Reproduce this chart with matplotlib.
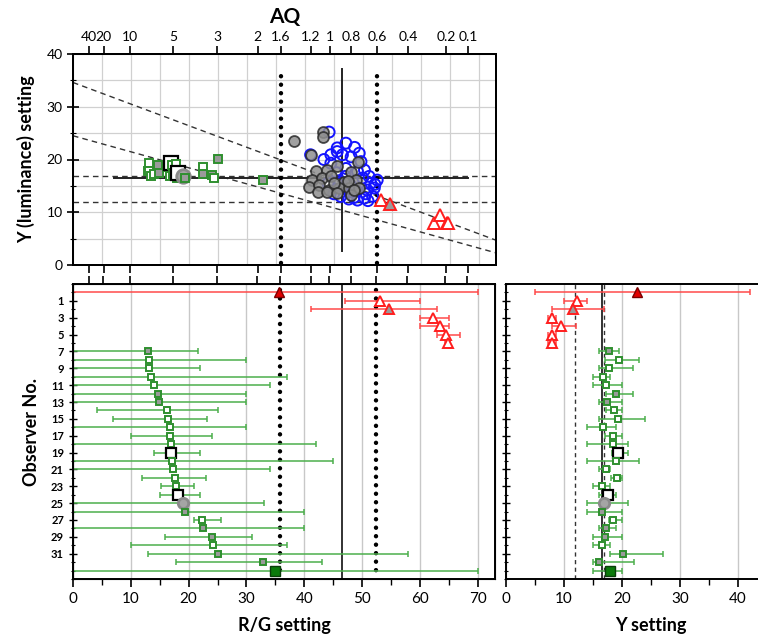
import numpy as np
import matplotlib.pyplot as plt
from matplotlib.ticker import MultipleLocator, FixedLocator, NullFormatter

plt.rcParams['font.family'] = ['Lato', 'DejaVu Sans']

# observers 0..33 (0 = protan mean, 33 = deutan mean)
observer = np.arange(34)
group = ['P'] * 7 + ['D'] * 27
kind = ['mean', 'open', 'gray', 'open', 'open', 'open', 'open',
        'gray', 'open', 'open', 'open', 'open', 'gray', 'gray', 'open', 'open', 'open',
        'open', 'open', 'black', 'open', 'open', 'open', 'open', 'black', 'circle',
        'gray', 'open', 'gray', 'gray', 'open', 'gray', 'gray', 'mean']

rg_val = [35.7, 53.1, 54.7, 62.3, 63.4, 64.6, 64.8,
          12.9, 13.1, 13.2, 13.5, 14.0, 14.7, 14.9, 16.2, 16.4, 16.7, 16.8, 17.0,
          16.9, 17.1, 17.3, 17.7, 17.9, 18.2, 19.0, 19.3, 22.4, 22.5, 24.0, 24.3,
          25.1, 32.8, 35.0]
rg_lo = [0, 47.1, 41.1, 60.0, 60.0, 62.9, 64.3,
         0, 0, 0, 0, 0, 0, 0, 4.1, 7.0, 0, 10.0, 0,
         14.0, 0, 0, 12.0, 15.2, 15.0, 0, 0, 21.0, 0, 16.0, 10.0,
         12.9, 17.9, 0]
rg_hi = [70, 60.0, 63.0, 65.0, 65.0, 67.0, 65.3,
         21.6, 30.0, 22.0, 37.0, 34.1, 30.0, 30.0, 25.0, 23.1, 30.0, 24.0, 42.0,
         22.0, 45.0, 34.0, 23.0, 21.0, 22.0, 33.0, 40.0, 25.6, 40.0, 31.0, 37.0,
         58.0, 43.0, 70.0]

y_val = [22.6, 12.3, 11.5, 8.0, 9.5, 8.0, 7.9,
         17.8, 19.4, 17.8, 16.8, 17.2, 18.9, 17.4, 18.6, 19.3, 16.8, 18.5, 18.4,
         19.3, 18.9, 17.2, 19.2, 16.5, 17.5, 16.9, 16.5, 18.5, 17.2, 17.0, 16.5,
         20.1, 16.1, 18.0]
y_lo = [5.0, 10.0, 8.0, 7.3, 8.0, 7.3, 7.3,
        16.0, 17.0, 16.0, 15.0, 15.0, 17.2, 16.0, 17.2, 16.0, 14.0, 17.0, 14.0,
        18.2, 14.0, 16.0, 18.1, 15.0, 16.0, 14.0, 14.0, 17.7, 16.0, 15.0, 15.0,
        18.0, 15.0, 15.0]
y_hi = [42.0, 14.0, 16.9, 8.7, 12.0, 8.7, 8.6,
        19.5, 23.0, 21.9, 18.0, 20.0, 21.9, 20.0, 20.0, 24.0, 19.0, 20.0, 21.0,
        21.0, 23.0, 18.0, 20.0, 18.0, 18.9, 21.0, 20.0, 20.0, 18.9, 20.0, 18.0,
        27.0, 22.0, 20.0]

# normal trichromats (top panel)
normal_blue_rg = [44.2, 41.0, 47.1, 44.5, 45.6, 46.5, 49.4, 49.7, 50.3, 50.0, 51.4, 50.8,
                  52.0, 51.7, 50.3, 49.1, 47.6, 46.2, 44.5, 52.5, 51.1, 49.1, 47.1, 46.0,
                  48.0, 45.0, 48.0, 50.5, 49.0, 46.5, 48.5, 47.0, 45.5, 44.0, 52.1, 45.6,
                  43.3, 48.6, 50.9, 47.8]
normal_blue_y = [25.2, 20.9, 23.1, 20.9, 21.5, 20.9, 21.2, 19.6, 18.0, 16.5, 15.5, 14.2,
                 14.6, 13.0, 12.7, 12.3, 12.5, 13.0, 19.3, 16.1, 16.8, 17.7, 18.3, 16.0,
                 15.0, 13.5, 20.5, 13.5, 14.0, 14.5, 12.8, 16.8, 17.5, 15.5, 15.3, 22.2,
                 20.0, 22.3, 12.2, 13.9]
normal_gray_rg = [38.1, 43.2, 43.1, 41.0, 49.1, 41.9, 43.9, 45.6, 48.0, 41.3, 43.0, 44.5,
                  46.8, 48.8, 40.7, 42.4, 44.2, 45.9, 47.6, 49.4, 42.2, 45.0, 47.9, 47.4,
                  48.5, 43.9, 45.6]
normal_gray_y = [23.5, 25.2, 24.2, 20.9, 19.6, 17.9, 18.0, 18.7, 17.7, 16.1, 16.5, 16.8,
                 15.8, 16.1, 14.8, 15.2, 14.2, 14.6, 14.6, 14.6, 13.9, 15.5, 13.3, 15.9,
                 14.2, 13.9, 13.6]

aq_ticks = [40, 20, 10, 5, 3, 2, 1.6, 1.2, 1, 0.8, 0.6, 0.4, 0.2, 0.1]
aq_limits = [1.6, 0.6]          # dotted lines
y_limits = [11.9, 16.9]         # dashed lines
normal_mean_rg = 46.5
normal_mean_y = 16.5
cross_rg_span = (7.1, 68.2)
cross_y_span = (2.7, 37.2)
diag_lines = [(34.6, 4.7), (24.5, 2.3)]   # Y at R/G = 0 and R/G = 73


def rg_from_aq(aq):
    return 113.6 / (aq + 1.565)


RED, GREEN, BLUE = '#ff1e1e', '#2f8f2f', '#1414ff'
ERR_RED, ERR_GREEN = '#ff4a4a', '#4caf4c'


def marker_style(g, k, big=False):
    s = 1.3 if big else 1.0
    if g == 'P':
        st = dict(marker='^', ms=6.5 * s, mec=RED, mfc='white', mew=1.4)
        if k == 'gray':
            st['mfc'] = '#9a9a9a'
        if k == 'mean':
            st.update(mfc='#e00000', mec='#7a0000', mew=1.0)
        return st
    st = dict(marker='s', ms=4.6 * s, mec=GREEN, mfc='white', mew=1.4)
    if k == 'gray':
        st['mfc'] = '#9a9a9a'
    elif k == 'black':
        st.update(ms=7.5 * s, mec='black', mew=1.6)
    elif k == 'circle':
        st.update(marker='o', ms=7.5 * s, mec='#8a8a8a', mfc='#a5a5a5', mew=2.0)
    elif k == 'mean':
        st.update(ms=6.5 * s, mfc='#0b7a0b', mec='#0a3d0a', mew=1.0)
    return st


def dotted(ax, x, y0, y1):
    ax.plot([x, x], [y0, y1], color='black', lw=3.2, ls=(0, (0.01, 1.9)),
            dash_capstyle='round', zorder=3)


fig = plt.figure(figsize=(7.58, 6.43), dpi=100)
W, H = 758, 643


def px_axes(l, t, r, b):
    return fig.add_axes([l / W, 1 - b / H, (r - l) / W, (b - t) / H])


# ---------------- top panel ----------------
ax = px_axes(73, 54, 496, 265)
ax.set_xlim(0, 73)
ax.set_ylim(0, 40)
ax.yaxis.set_major_locator(MultipleLocator(10))
ax.yaxis.set_minor_locator(MultipleLocator(5))
aq_pos = [rg_from_aq(a) for a in aq_ticks]
ax.xaxis.set_major_locator(FixedLocator(aq_pos))
ax.xaxis.set_major_formatter(NullFormatter())
ax.xaxis.set_minor_locator(MultipleLocator(5))
ax.tick_params(axis='x', which='minor', length=0)
ax.tick_params(axis='x', which='major', length=6, width=1.2, direction='out')
ax.tick_params(axis='y', which='both', direction='inout', labelsize=10)
ax.tick_params(axis='y', which='major', length=8, width=1.2)
ax.tick_params(axis='y', which='minor', length=5, width=0.8)
ax.grid(axis='x', which='minor', color='#d0d0d0', lw=0.9)
ax.grid(axis='y', which='both', color='#d0d0d0', lw=0.9)
ax.set_axisbelow(True)
ax.set_ylabel('Y (luminance) setting', fontsize=13, fontweight='bold', labelpad=8)
for sp in ax.spines.values():
    sp.set_linewidth(1.4)

xs = np.array([0, 73])
for y0, y1 in diag_lines:
    ax.plot(xs, [y0, y1], color='#333333', lw=1.0, ls=(0, (4, 3)), zorder=2)
for yl in y_limits:
    ax.axhline(yl, color='#333333', lw=1.0, ls=(0, (4, 3)), zorder=2)
ax.plot(cross_rg_span, [normal_mean_y] * 2, color='#222222', lw=1.4, zorder=2)
ax.plot([normal_mean_rg] * 2, cross_y_span, color='#222222', lw=1.4, zorder=2)
for a in aq_limits:
    dotted(ax, rg_from_aq(a), 0.3, 36.5)

ax.scatter(normal_blue_rg, normal_blue_y, s=62, facecolor='none', edgecolor=BLUE,
           lw=1.4, zorder=4)
ax.scatter(normal_gray_rg, normal_gray_y, s=62, facecolor='#8f8f8f', edgecolor='#2a2a2a',
           lw=1.3, alpha=0.85, zorder=5)
for i in range(1, 33):
    st = marker_style(group[i], kind[i], big=True)
    ax.plot(rg_val[i], y_val[i], ls='none', zorder=6, **st)

axt = ax.twiny()
axt.set_xlim(ax.get_xlim())
axt.set_xticks(aq_pos)
axt.set_xticklabels([f'{a:g}' for a in aq_ticks], fontsize=10)
axt.tick_params(axis='x', length=6, width=1.2, direction='out', pad=2)
axt.set_xlabel('AQ', fontsize=15, fontweight='bold', labelpad=6)
for sp in axt.spines.values():
    sp.set_linewidth(1.4)

# ---------------- bottom left: R/G ----------------
ax2 = px_axes(73, 284, 495, 579)
ax2.set_xlim(0, 73)
ax2.set_ylim(34, -1)
ax2.xaxis.set_major_locator(FixedLocator(np.arange(0, 71, 10)))
ax2.xaxis.set_minor_locator(MultipleLocator(5))
ax2.yaxis.set_major_locator(FixedLocator(np.arange(1, 32, 2)))
ax2.yaxis.set_minor_locator(MultipleLocator(1))
ax2.tick_params(axis='x', which='major', length=6, width=1.2, labelsize=11)
ax2.tick_params(axis='x', which='minor', length=4, width=1.0)
ax2.tick_params(axis='y', which='major', length=6, width=1.0, direction='inout',
                labelsize=8)
ax2.tick_params(axis='y', which='minor', length=3.5, width=0.8, direction='inout')
for lab in ax2.get_yticklabels():
    lab.set_fontweight('bold')
ax2.grid(axis='x', which='major', color='#c8c8c8', lw=1.0)
ax2.set_axisbelow(True)
ax2.set_xlabel('R/G setting', fontsize=13, fontweight='bold', labelpad=8)
ax2.set_ylabel('Observer No.', fontsize=13, fontweight='bold', labelpad=8)
for sp in ax2.spines.values():
    sp.set_linewidth(1.4)

ax2.axvline(normal_mean_rg, color='#222222', lw=1.3, zorder=2)
for a in aq_limits:
    dotted(ax2, rg_from_aq(a), -0.3, 33.3)

axt2 = ax2.twiny()
axt2.set_xlim(ax2.get_xlim())
axt2.set_xticks(aq_pos)
axt2.set_xticklabels([])
axt2.tick_params(axis='x', length=6, width=1.2, direction='out')

# ---------------- bottom right: Y ----------------
ax3 = px_axes(506, 284, 796, 579)
ax3.set_xlim(0, 50)
ax3.set_ylim(34, -1)
ax3.xaxis.set_major_locator(FixedLocator(np.arange(0, 41, 10)))
ax3.xaxis.set_minor_locator(MultipleLocator(5))
ax3.yaxis.set_major_locator(FixedLocator(np.arange(1, 32, 2)))
ax3.yaxis.set_minor_locator(MultipleLocator(1))
ax3.set_yticklabels([])
ax3.tick_params(axis='x', which='major', length=6, width=1.2, labelsize=11)
ax3.tick_params(axis='x', which='minor', length=4, width=1.0)
ax3.tick_params(axis='y', which='major', length=6, width=1.0, direction='inout')
ax3.tick_params(axis='y', which='minor', length=3.5, width=0.8, direction='inout')
ax3.grid(axis='x', which='major', color='#c8c8c8', lw=1.0)
ax3.set_axisbelow(True)
ax3.set_xlabel('Y setting', fontsize=13, fontweight='bold', labelpad=8)
for sp in ax3.spines.values():
    sp.set_linewidth(1.4)
for yl in y_limits:
    ax3.axvline(yl, color='#333333', lw=1.0, ls=(0, (3, 2.5)), zorder=2)
ax3.axvline(normal_mean_y, color='#222222', lw=1.3, zorder=2)

# error bars and markers for every observer
for i in observer:
    ec = ERR_RED if group[i] == 'P' else ERR_GREEN
    st = marker_style(group[i], kind[i])
    for a, v, lo, hi in ((ax2, rg_val, rg_lo, rg_hi), (ax3, y_val, y_lo, y_hi)):
        a.errorbar(v[i], i, xerr=[[v[i] - lo[i]], [hi[i] - v[i]]], fmt='none',
                   ecolor=ec, elinewidth=1.1, capsize=2.2, capthick=1.1, zorder=4)
        a.plot(v[i], i, ls='none', zorder=5, **st)

fig.savefig('out.png', dpi=100)
